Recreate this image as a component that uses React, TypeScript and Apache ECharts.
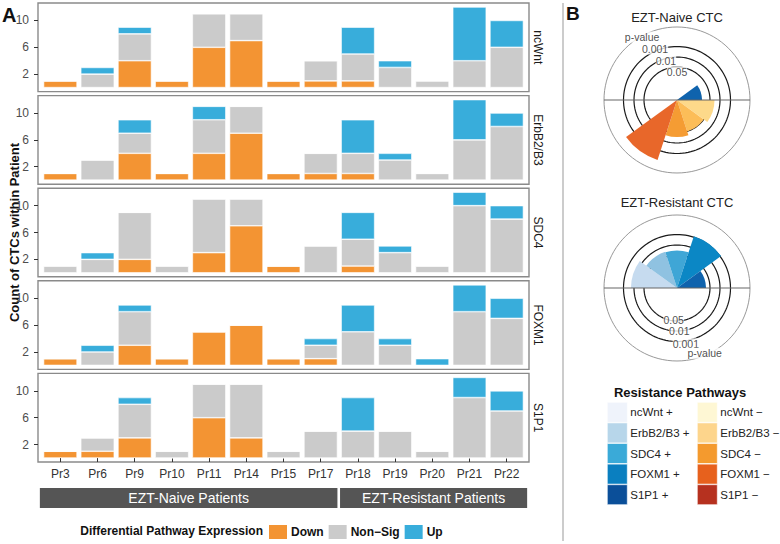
import React, { useEffect, useRef } from 'react';
import * as echarts from 'echarts';

// ---------- Panel A data ----------
const patients = ['Pr3', 'Pr6', 'Pr9', 'Pr10', 'Pr11', 'Pr14', 'Pr15', 'Pr17', 'Pr18', 'Pr19', 'Pr20', 'Pr21', 'Pr22'];
const pathways = ['ncWnt', 'ErbB2/B3', 'SDC4', 'FOXM1', 'S1P1'];
const expressionLevels = ['Down', 'Non\u2212Sig', 'Up'];

const ncWntDown = [1, 0, 4, 1, 6, 7, 1, 1, 1, 0, 0, 0, 0];
const ncWntNonSig = [0, 2, 4, 0, 5, 4, 0, 3, 4, 3, 1, 4, 6];
const ncWntUp = [0, 1, 1, 0, 0, 0, 0, 0, 4, 1, 0, 8, 4];

const erbDown = [1, 0, 4, 1, 4, 7, 1, 1, 1, 0, 0, 0, 0];
const erbNonSig = [0, 3, 3, 0, 5, 4, 0, 3, 3, 3, 1, 6, 8];
const erbUp = [0, 0, 2, 0, 2, 0, 0, 0, 5, 1, 0, 6, 2];

const sdc4Down = [0, 0, 2, 0, 3, 7, 1, 0, 1, 0, 0, 0, 0];
const sdc4NonSig = [1, 2, 7, 1, 8, 4, 0, 4, 4, 3, 1, 10, 8];
const sdc4Up = [0, 1, 0, 0, 0, 0, 0, 0, 4, 1, 0, 2, 2];

const foxm1Down = [1, 0, 3, 1, 5, 6, 1, 1, 0, 0, 0, 0, 0];
const foxm1NonSig = [0, 2, 5, 0, 0, 0, 0, 2, 5, 3, 0, 8, 7];
const foxm1Up = [0, 1, 1, 0, 0, 0, 0, 1, 4, 1, 1, 4, 3];

const s1p1Down = [1, 1, 3, 0, 6, 3, 0, 0, 0, 0, 0, 0, 0];
const s1p1NonSig = [0, 2, 5, 1, 5, 8, 1, 4, 4, 4, 1, 9, 7];
const s1p1Up = [0, 0, 1, 0, 0, 0, 0, 0, 5, 0, 0, 3, 3];

const yTicks = [2, 6, 10];
const groupNames = ['EZT-Naive Patients', 'EZT-Resistant Patients'];
const groupFrom = ['Pr3', 'Pr18'];
const groupTo = ['Pr17', 'Pr22'];

// ---------- Panel B data ----------
const roseCats = ['ncWnt +', 'ErbB2/B3 +', 'SDC4 +', 'FOXM1 +', 'S1P1 +', 'ncWnt \u2212', 'ErbB2/B3 \u2212', 'SDC4 \u2212', 'FOXM1 \u2212', 'S1P1 \u2212'];
const naiveScore = [0, 0, 0, 0, 2.5, 3.75, 3.3, 3.7, 6.3, 0];
const resistantScore = [4.6, 3.8, 3.75, 5.45, 2.9, 0, 0, 0, 0, 0];
const pLabels = ['0.05', '0.01', '0.001'];
const pRadius = [3.3, 4.3, 5.35];
const outerRadius = 7.3;
const naiveLabelAngles = [90, 105.6, 113.3, 119];
const resistantLabelAngles = [264, 273, 279, 293];
const naiveLabelRadius = [2.8, 4.1, 5.55, 7.2];
const resistantLabelRadius = [3.25, 4.35, 5.65, 7.1];

// ---------- styles ----------
const FONT = 'Liberation Sans, Arial, Helvetica, sans-serif';
const levelColors = ['#f39433', '#cbcbcb', '#38addb'];
const wedgeColors = ['#c6dbef', '#8fc2e1', '#3fa6d6', '#0b87c5', '#0f63ad', '#fdd98a', '#fcbd58', '#f59c33', '#e8672a', '#c0421f'];
const legendColors = ['#eff3fb', '#b7d6ea', '#3aaad8', '#0a7fc0', '#0b4f99', '#fef7d4', '#fdd58c', '#f49a2e', '#e7611d', '#b6311f'];

const P_LEFT = 38;
const P_WIDTH = 491;
const P_TOP = 3;
const P_H = 88.6;
const P_STEP = 92.6;
const X_EXPAND = 0.6; // ggplot discrete expansion (in category units)
const Y_MIN = -0.6;
const Y_MAX = 12.6;

function buildOption() {
  const table = [
    [ncWntDown, ncWntNonSig, ncWntUp],
    [erbDown, erbNonSig, erbUp],
    [sdc4Down, sdc4NonSig, sdc4Up],
    [foxm1Down, foxm1NonSig, foxm1Up],
    [s1p1Down, s1p1NonSig, s1p1Up],
  ];
  const nCat = patients.length;
  const unit = P_WIDTH / (nCat - 1 + 2 * X_EXPAND);
  const dataLeft = P_LEFT + (X_EXPAND - 0.5) * unit;
  const dataWidth = nCat * unit;

  const grid: any[] = [];
  const xAxis: any[] = [];
  const yAxis: any[] = [];
  const series: any[] = [];
  const graphic: any[] = [];

  pathways.forEach((pw, p) => {
    const top = P_TOP + p * P_STEP;
    const last = p === pathways.length - 1;
    // frame grid (border + y axis)
    const fi = grid.length;
    grid.push({ left: P_LEFT, width: P_WIDTH, top, height: P_H, show: true, borderColor: '#8a8a8a', borderWidth: 1.4, backgroundColor: '#fff' });
    xAxis.push({ type: 'value', gridIndex: fi, min: 0, max: 1, show: false });
    yAxis.push({
      type: 'value', gridIndex: fi, min: Y_MIN, max: Y_MAX,
      axisLine: { show: false, onZero: false }, splitLine: { show: false },
      axisTick: { show: true, customValues: yTicks, length: 4, lineStyle: { color: '#333' } },
      axisLabel: { customValues: yTicks, margin: 9, fontSize: 12, color: '#4d4d4d', fontFamily: FONT },
    });
    // data grid (category axis)
    const di = grid.length;
    grid.push({ left: dataLeft, width: dataWidth, top, height: P_H });
    xAxis.push({
      type: 'category', gridIndex: di, data: patients, boundaryGap: true,
      axisLine: { show: false },
      axisTick: { show: last, alignWithLabel: true, length: 4, lineStyle: { color: '#333' } },
      axisLabel: { show: last, margin: 6, fontSize: 12, color: '#333', fontFamily: FONT, interval: 0 },
      splitLine: { show: false },
    });
    yAxis.push({ type: 'value', gridIndex: di, min: Y_MIN, max: Y_MAX, show: false });
    expressionLevels.forEach((lvl, k) => {
      series.push({
        type: 'bar', name: lvl, xAxisIndex: di, yAxisIndex: di, stack: 'panel' + p,
        barWidth: '90%',
        data: table[p][k],
        itemStyle: { color: levelColors[k], borderColor: '#fff', borderWidth: 0.6 },
        silent: true,
      });
    });
    graphic.push({
      type: 'text', x: 538, y: top + P_H / 2, rotation: -Math.PI / 2,
      style: { text: pw, font: `12px ${FONT}`, fill: '#1a1a1a', align: 'center', verticalAlign: 'middle', textAlign: 'center', textVerticalAlign: 'middle' },
    });
  });

  // group strip grid
  const gi = grid.length;
  const xMin = -X_EXPAND;
  const xMax = nCat - 1 + X_EXPAND;
  grid.push({ left: P_LEFT, width: P_WIDTH, top: 488, height: 20 });
  xAxis.push({ type: 'value', gridIndex: gi, min: xMin, max: xMax, show: false });
  yAxis.push({ type: 'value', gridIndex: gi, min: 0, max: 1, show: false });
  series.push({
    type: 'line', xAxisIndex: gi, yAxisIndex: gi, data: [], silent: true,
    markArea: {
      silent: true,
      itemStyle: { color: '#555555' },
      label: { show: true, position: 'inside', color: '#fff', fontSize: 14, fontFamily: FONT },
      data: groupNames.map((g, j) => {
        const f = patients.indexOf(groupFrom[j]);
        const t = patients.indexOf(groupTo[j]);
        const start = f === 0 ? xMin + 0.05 : f - 0.48;
        const end = t === nCat - 1 ? xMax - 0.05 : t + 0.45;
        return [{ name: g, xAxis: start }, { xAxis: end }];
      }),
    },
  });

  // ---------- Panel B: rose charts ----------
  const roses = [
    { title: 'EZT-Naive CTC', center: [677, 100], titleY: 17, scores: naiveScore, angles: naiveLabelAngles, radii: naiveLabelRadius },
    { title: 'EZT-Resistant CTC', center: [677, 288], titleY: 202, scores: resistantScore, angles: resistantLabelAngles, radii: resistantLabelRadius },
  ];
  const polar: any[] = [];
  const angleAxis: any[] = [];
  const radiusAxis: any[] = [];
  const circleAngles: number[] = [];
  for (let a = 0; a <= 360; a += 3) circleAngles.push(a);

  roses.forEach((r, c) => {
    const pb = 2 * c; // bars polar
    const pl = 2 * c + 1; // lines polar
    polar.push({ center: r.center, radius: 73 });
    polar.push({ center: r.center, radius: 73 });
    angleAxis.push({ polarIndex: pb, type: 'category', data: roseCats, startAngle: 180, clockwise: true, axisLine: { show: false }, axisTick: { show: false }, axisLabel: { show: false }, splitLine: { show: false } });
    angleAxis.push({ polarIndex: pl, type: 'value', min: 0, max: 360, startAngle: 0, clockwise: false, axisLine: { show: true, lineStyle: { color: '#8c8c8c', width: 0.9 } }, axisTick: { show: false }, axisLabel: { show: false }, splitLine: { show: false } });
    radiusAxis.push({ polarIndex: pb, type: 'value', min: 0, max: outerRadius, axisLine: { show: false }, axisTick: { show: false }, axisLabel: { show: false }, splitLine: { show: false } });
    radiusAxis.push({ polarIndex: pl, type: 'value', min: 0, max: outerRadius, axisLine: { show: false }, axisTick: { show: false }, axisLabel: { show: false }, splitLine: { show: false } });

    pRadius.forEach((pr) => {
      series.push({
        type: 'line', coordinateSystem: 'polar', polarIndex: pl, silent: true, showSymbol: false, z: 1,
        data: circleAngles.map((a) => [pr, a]),
        lineStyle: { color: '#1a1a1a', width: 1.2 },
      });
    });
    roseCats.forEach((name, k) => {
      series.push({
        type: 'bar', coordinateSystem: 'polar', polarIndex: pb, name, stack: 'rose' + c, silent: true, z: 2,
        barCategoryGap: '0%',
        data: r.scores.map((v, j) => (j === k ? v : 0)),
        itemStyle: { color: wedgeColors[k] },
      });
    });
    series.push({
      type: 'line', coordinateSystem: 'polar', polarIndex: pl, silent: true, showSymbol: false, z: 3,
      data: [[outerRadius, 180], [0, 0], [outerRadius, 0]],
      lineStyle: { color: '#666', width: 1.2 },
    });
    const labs = [...pLabels, 'p-value'];
    series.push({
      type: 'scatter', coordinateSystem: 'polar', polarIndex: pl, silent: true, z: 4, symbolSize: 1,
      itemStyle: { color: 'rgba(0,0,0,0)' },
      data: labs.map((t, j) => ({ name: t, value: [r.radii[j], r.angles[j]] })),
      label: { show: true, position: 'inside', formatter: '{b}', backgroundColor: '#fff', padding: 0, lineHeight: 11, fontSize: 10.5, color: '#222', fontFamily: FONT },
    });
    graphic.push({
      type: 'text', x: r.center[0], y: r.titleY,
      style: { text: r.title, font: `13px ${FONT}`, fill: '#222', align: 'center', verticalAlign: 'middle', textAlign: 'center', textVerticalAlign: 'middle' },
    });
  });

  // free texts & divider
  graphic.push(
    { type: 'text', x: 2, y: 5, style: { text: 'A', font: `bold 20px ${FONT}`, fill: '#111' } },
    { type: 'text', x: 566, y: 4, style: { text: 'B', font: `bold 19px ${FONT}`, fill: '#111' } },
    {
      type: 'text', x: 14, y: P_TOP + (P_STEP * 4 + P_H) / 2, rotation: Math.PI / 2,
      style: { text: 'Count of CTCs within Patient', font: `bold 13px ${FONT}`, fill: '#111', align: 'center', verticalAlign: 'middle', textAlign: 'center', textVerticalAlign: 'middle' },
    },
    {
      type: 'text', x: 263, y: 531,
      style: { text: 'Differential Pathway Expression', font: `bold 12px ${FONT}`, fill: '#111', align: 'right', verticalAlign: 'middle', textAlign: 'right', textVerticalAlign: 'middle' },
    },
    {
      type: 'text', x: 680, y: 392,
      style: { text: 'Resistance Pathways', font: `bold 13px ${FONT}`, fill: '#111', align: 'center', verticalAlign: 'middle', textAlign: 'center', textVerticalAlign: 'middle' },
    },
    { type: 'line', shape: { x1: 563, y1: 3, x2: 563, y2: 541 }, style: { stroke: '#999', lineWidth: 1 } },
  );

  const legendItem = (n: string) => ({ name: n, itemStyle: { color: legendColors[roseCats.indexOf(n)], borderColor: '#fff', borderWidth: 0.6 } });

  return {
    animation: false,
    textStyle: { fontFamily: FONT },
    grid, xAxis, yAxis, polar, angleAxis, radiusAxis, series, graphic,
    legend: [
      {
        data: expressionLevels, left: 267, top: 523, orient: 'horizontal', icon: 'rect',
        itemWidth: 20, itemHeight: 16, itemGap: 3, padding: 0, selectedMode: false,
        textStyle: { fontWeight: 'bold', fontSize: 12, color: '#111', fontFamily: FONT, padding: [0, 0, 0, -2] },
      },
      {
        data: roseCats.slice(0, 5).map(legendItem), left: 607, top: 402, orient: 'vertical', icon: 'rect',
        itemWidth: 20, itemHeight: 20, itemGap: 0, padding: 0, selectedMode: false,
        textStyle: { fontSize: 11.5, color: '#222', fontFamily: FONT, padding: [0, 0, 0, -2] },
      },
      {
        data: roseCats.slice(5).map(legendItem), left: 697, top: 402, orient: 'vertical', icon: 'rect',
        itemWidth: 20, itemHeight: 20, itemGap: 0, padding: 0, selectedMode: false,
        textStyle: { fontSize: 11.5, color: '#222', fontFamily: FONT, padding: [0, 0, 0, -2] },
      },
    ],
  };
}

export default function App() {
  const ref = useRef<HTMLDivElement>(null);
  useEffect(() => {
    if (!ref.current) return;
    const chart = echarts.init(ref.current, null, { renderer: 'svg' });
    chart.setOption(buildOption() as any);
    return () => chart.dispose();
  }, []);
  return <div ref={ref} style={{ position: 'fixed', left: 0, top: 0, width: 780, height: 544, background: '#fff' }} />;
}
